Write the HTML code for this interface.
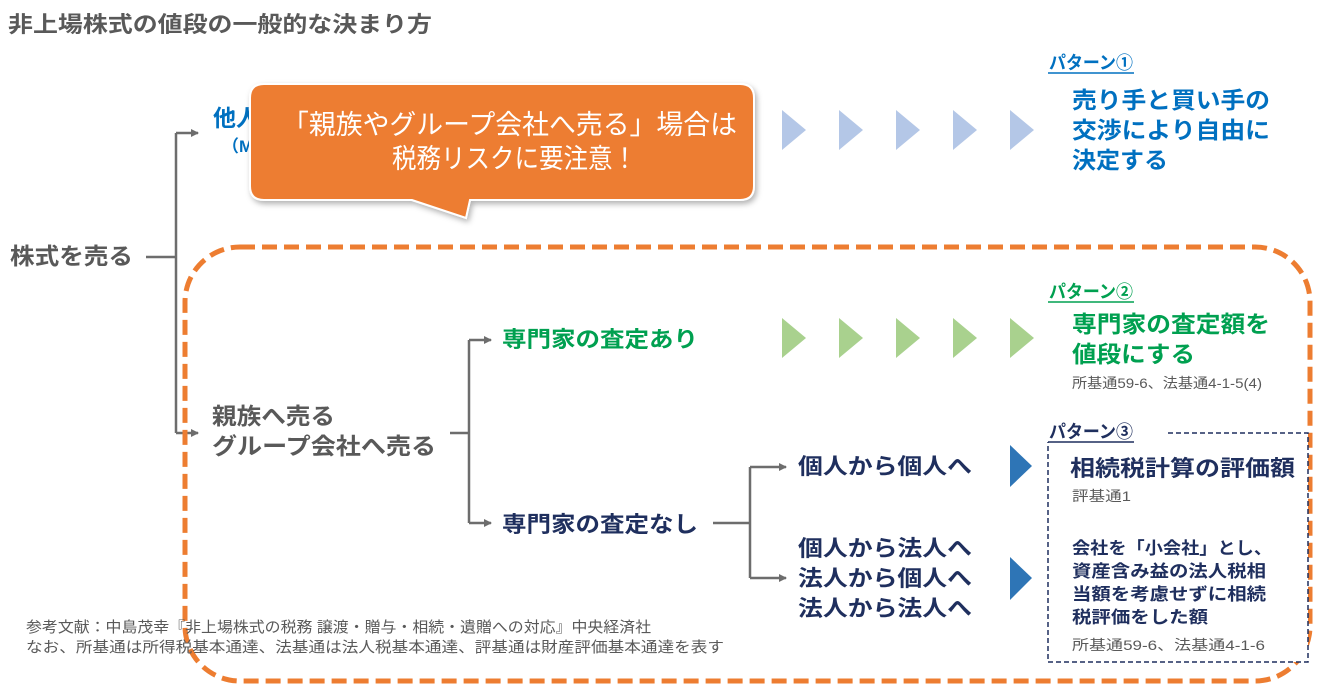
<!DOCTYPE html>
<html><head><meta charset="utf-8"><style>
body{margin:0;background:#fff;}
svg text{font-family:"Liberation Sans","Noto Sans CJK JP",sans-serif;}
</style></head><body>
<svg width="1321" height="693" viewBox="0 0 1321 693" xmlns="http://www.w3.org/2000/svg">
<defs>
<marker id="ar" markerWidth="8" markerHeight="8" refX="7" refY="4" orient="auto" markerUnits="userSpaceOnUse"><path d="M0,0 L8,4 L0,8 z" fill="#6d6d6d"/></marker>
<filter id="sh" x="-10%" y="-10%" width="120%" height="130%"><feDropShadow dx="2" dy="3" stdDeviation="3" flood-color="#000" flood-opacity="0.3"/></filter>
</defs>
<text x="8" y="32" font-size="22" font-weight="bold" fill="#595959" textLength="424" lengthAdjust="spacingAndGlyphs">非上場株式の値段の一般的な決まり方</text>

<g stroke="#6d6d6d" stroke-width="2.5" fill="none">
<path d="M146,257 H176"/>
<path d="M176,133 V433"/>
<path d="M176,133 H198" marker-end="url(#ar)"/>
<path d="M176,433 H198" marker-end="url(#ar)"/>
<path d="M450,433 H469"/>
<path d="M469,340 V523"/>
<path d="M469,340 H491" marker-end="url(#ar)"/>
<path d="M469,523 H491" marker-end="url(#ar)"/>
<path d="M713,523 H750"/>
<path d="M750,467 V578"/>
<path d="M750,467 H786" marker-end="url(#ar)"/>
<path d="M750,578 H786" marker-end="url(#ar)"/>
</g>

<text x="10" y="264" font-size="23" font-weight="bold" fill="#595959" textLength="123" lengthAdjust="spacingAndGlyphs">株式を売る</text>
<text x="213" y="126" font-size="23" font-weight="bold" fill="#0070C0">他人へ売る</text>
<text x="222" y="152" font-size="17" font-weight="bold" fill="#0070C0">（M&amp;A）</text>

<rect x="185" y="247" width="1125" height="434" rx="55" fill="none" stroke="#ED7D31" stroke-width="5" stroke-dasharray="15,7"/>

<g fill="#B4C7E7">
<path d="M782,110 L806,130 L782,150 z"/><path d="M839,110 L863,130 L839,150 z"/><path d="M896,110 L920,130 L896,150 z"/><path d="M953,110 L977,130 L953,150 z"/><path d="M1010,110 L1034,130 L1010,150 z"/>
</g>
<g fill="#A9D18E">
<path d="M782,318 L806,338 L782,358 z"/><path d="M839,318 L863,338 L839,358 z"/><path d="M896,318 L920,338 L896,358 z"/><path d="M953,318 L977,338 L953,358 z"/><path d="M1010,318 L1034,338 L1010,358 z"/>
</g>
<g fill="#2E75B6">
<path d="M1010,445 L1032,466 L1010,487 z"/>
<path d="M1010,557 L1032,578 L1010,600 z"/>
</g>

<path d="M268,84 H740 Q754,84 754,98 V186 Q754,200 740,200 H470 L466,218 L412,200 H264 Q250,200 250,186 V98 Q250,84 264,84 z" fill="#ED7D31" stroke="#fff" stroke-width="2" filter="url(#sh)"/>
<text x="282" y="134" font-size="27" fill="#fff" textLength="455" lengthAdjust="spacingAndGlyphs">「親族やグループ会社へ売る」場合は</text>
<text x="392" y="168" font-size="27" fill="#fff" textLength="245" lengthAdjust="spacingAndGlyphs">税務リスクに要注意！</text>

<text x="1049" y="69" font-size="18" font-weight="bold" fill="#0070C0" textLength="84" lengthAdjust="spacingAndGlyphs">パターン①</text>
<line x1="1048" y1="73" x2="1134" y2="73" stroke="#0070C0" stroke-width="1.5"/>
<g font-size="23" font-weight="bold" fill="#0070C0">
<text x="1072" y="108" textLength="198" lengthAdjust="spacingAndGlyphs">売り手と買い手の</text>
<text x="1072" y="138" textLength="198" lengthAdjust="spacingAndGlyphs">交渉により自由に</text>
<text x="1072" y="168" textLength="96" lengthAdjust="spacingAndGlyphs">決定する</text>
</g>

<text x="1049" y="298" font-size="18" font-weight="bold" fill="#00A050" textLength="84" lengthAdjust="spacingAndGlyphs">パターン②</text>
<line x1="1048" y1="302" x2="1134" y2="302" stroke="#00A050" stroke-width="1.5"/>
<g font-size="23" font-weight="bold" fill="#00A050">
<text x="1072" y="332" textLength="198" lengthAdjust="spacingAndGlyphs">専門家の査定額を</text>
<text x="1072" y="362" textLength="123" lengthAdjust="spacingAndGlyphs">値段にする</text>
</g>
<text x="1072" y="388" font-size="14" fill="#595959" textLength="190" lengthAdjust="spacingAndGlyphs">所基通59-6、法基通4-1-5(4)</text>

<text x="502" y="347" font-size="22" font-weight="bold" fill="#00A050" textLength="196" lengthAdjust="spacingAndGlyphs">専門家の査定あり</text>
<text x="212" y="424" font-size="23" font-weight="bold" fill="#595959" textLength="123" lengthAdjust="spacingAndGlyphs">親族へ売る</text>
<text x="212" y="454" font-size="23" font-weight="bold" fill="#595959" textLength="224" lengthAdjust="spacingAndGlyphs">グループ会社へ売る</text>
<text x="502" y="532" font-size="22" font-weight="bold" fill="#1F2F5E" textLength="196" lengthAdjust="spacingAndGlyphs">専門家の査定なし</text>
<g font-size="22" font-weight="bold" fill="#1F2F5E">
<text x="798" y="474" textLength="174" lengthAdjust="spacingAndGlyphs">個人から個人へ</text>
<text x="798" y="556" textLength="174" lengthAdjust="spacingAndGlyphs">個人から法人へ</text>
<text x="798" y="586" textLength="174" lengthAdjust="spacingAndGlyphs">法人から個人へ</text>
<text x="798" y="616" textLength="174" lengthAdjust="spacingAndGlyphs">法人から法人へ</text>
</g>

<rect x="1048" y="433" width="260" height="229" fill="#fff" stroke="#1F2F5E" stroke-width="1.5" stroke-dasharray="5,3"/>
<rect x="1046" y="420" width="122" height="22" fill="#fff"/>
<text x="1049" y="438" font-size="18" font-weight="bold" fill="#1F2F5E" textLength="84" lengthAdjust="spacingAndGlyphs">パターン③</text>
<line x1="1048" y1="442" x2="1134" y2="442" stroke="#1F2F5E" stroke-width="1.5"/>
<text x="1070" y="476" font-size="22" font-weight="bold" fill="#1F2F5E" textLength="225" lengthAdjust="spacingAndGlyphs">相続税計算の評価額</text>
<text x="1072" y="501" font-size="14" fill="#595959" textLength="59" lengthAdjust="spacingAndGlyphs">評基通1</text>
<g font-size="17" font-weight="bold" fill="#1F2F5E">
<text x="1072" y="554" textLength="200" lengthAdjust="spacingAndGlyphs">会社を「小会社」とし、</text>
<text x="1072" y="577" textLength="194" lengthAdjust="spacingAndGlyphs">資産含み益の法人税相</text>
<text x="1072" y="600" textLength="194" lengthAdjust="spacingAndGlyphs">当額を考慮せずに相続</text>
<text x="1072" y="623" textLength="136" lengthAdjust="spacingAndGlyphs">税評価をした額</text>
</g>
<text x="1072" y="650" font-size="14" fill="#595959" textLength="193" lengthAdjust="spacingAndGlyphs">所基通59-6、法基通4-1-6</text>

<g font-size="15" fill="#595959">
<text x="26" y="632" textLength="625" lengthAdjust="spacingAndGlyphs">参考文献：中島茂幸『非上場株式の税務 譲渡・贈与・相続・遺贈への対応』中央経済社</text>
<text x="26" y="652" textLength="698" lengthAdjust="spacingAndGlyphs">なお、所基通は所得税基本通達、法基通は法人税基本通達、評基通は財産評価基本通達を表す</text>
</g>
</svg>
</body></html>
